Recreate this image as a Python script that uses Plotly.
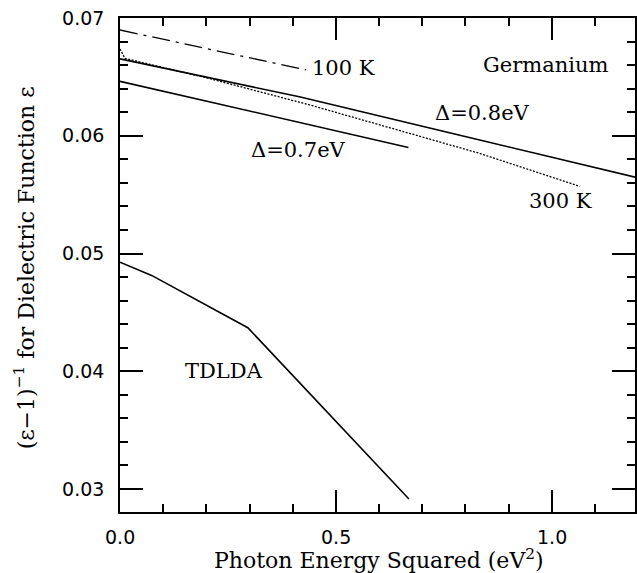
import plotly.graph_objects as go

# ---- data ----
x_100K = [0.0, 0.431]
y_100K = [0.06898, 0.06559]

x_d08 = [0.0, 0.4154, 0.8308, 1.2]
y_d08 = [0.06653, 0.06331, 0.05966, 0.05643]

x_300K = [0.0, 0.0115, 0.1962, 0.4385, 0.8308, 1.0655]
y_300K = [0.06737, 0.06657, 0.06496, 0.06263, 0.05853, 0.05570]

x_d07 = [0.0, 0.6681]
y_d07 = [0.06462, 0.05901]

x_tdlda = [0.0, 0.0732, 0.2961, 0.6693]
y_tdlda = [0.04926, 0.04814, 0.04370, 0.02915]

labels = ["100 K", "Germanium", "Δ=0.8eV", "Δ=0.7eV", "300 K", "TDLDA"]
label_x = [0.517, 0.9866, 0.840, 0.4143, 1.020, 0.240]
label_y = [0.06576, 0.06602, 0.06195, 0.05881, 0.05443, 0.04003]

x_tickvals = [0.0, 0.5, 1.0]
x_ticktext = ["0.0", "0.5", "1.0"]
y_tickvals = [0.03, 0.04, 0.05, 0.06, 0.07]
y_ticktext = ["0.03", "0.04", "0.05", "0.06", "0.07"]

SERIF = "DejaVu Serif"
SANS = "DejaVu Sans"
LW = 1.6

fig = go.Figure()
fig.add_trace(go.Scatter(x=x_100K, y=y_100K, mode="lines",
                         line=dict(color="black", width=1.3, dash="18px,6px,3px,6px")))
fig.add_trace(go.Scatter(x=x_d08, y=y_d08, mode="lines",
                         line=dict(color="black", width=LW)))
fig.add_trace(go.Scatter(x=x_300K, y=y_300K, mode="lines",
                         line=dict(color="black", width=1.3, dash="2px,1.5px")))
fig.add_trace(go.Scatter(x=x_d07, y=y_d07, mode="lines",
                         line=dict(color="black", width=LW)))
fig.add_trace(go.Scatter(x=x_tdlda, y=y_tdlda, mode="lines",
                         line=dict(color="black", width=LW)))

for t, lx, ly in zip(labels, label_x, label_y):
    fig.add_annotation(x=lx, y=ly, xref="x", yref="y", text=t, showarrow=False,
                       xanchor="center", yanchor="middle",
                       font=dict(family=SERIF, size=21, color="black"))

# x tick labels (placed below the axis at the tick values)
for tv, tt in zip(x_tickvals, x_ticktext):
    fig.add_annotation(x=tv, y=(512 - 537) / 494, xref="x", yref="paper", text=tt,
                       showarrow=False, xanchor="center", yanchor="middle",
                       font=dict(family=SANS, size=19, color="black"))

# axis titles
fig.add_annotation(x=(380 - 120) / 517, y=(512 - 575) / 494, xref="paper", yref="paper",
                   text="Photon Energy Squared (eV<sup>2</sup>)", showarrow=False,
                   xanchor="center", yanchor="bottom",
                   font=dict(family=SERIF, size=22, color="black"))
fig.add_annotation(x=(24 - 120) / 517, y=(512 - 268) / 494, xref="paper", yref="paper",
                   text="(ε−1)<sup>−1</sup> for Dielectric Function ε", showarrow=False,
                   textangle=-90, xanchor="center", yanchor="middle",
                   font=dict(family=SERIF, size=22, color="black"))

fig.update_xaxes(range=[0, 1.193], showgrid=False, zeroline=False,
                 showline=True, linecolor="black", linewidth=LW, mirror="ticks",
                 ticks="inside", ticklen=22, tickwidth=1.5, tickcolor="black",
                 tickvals=x_tickvals, ticktext=x_ticktext, showticklabels=False,
                 minor=dict(dtick=0.1, tick0=0, ticks="inside", ticklen=8,
                            tickwidth=1.5, tickcolor="black", showgrid=False))
fig.update_yaxes(range=[0.02805, 0.07], showgrid=False, zeroline=False,
                 showline=True, linecolor="black", linewidth=LW, mirror="ticks",
                 ticks="inside", ticklen=23, tickwidth=1.5, tickcolor="black",
                 tickvals=y_tickvals, ticktext=y_ticktext,
                 tickfont=dict(family=SANS, size=19, color="black"),
                 ticklabelstandoff=10,
                 minor=dict(dtick=0.002, tick0=0, ticks="inside", ticklen=8,
                            tickwidth=1.5, tickcolor="black", showgrid=False))

fig.update_layout(width=637, height=573,
                  margin=dict(l=120, r=0, t=18, b=61),
                  paper_bgcolor="white", plot_bgcolor="white",
                  showlegend=False)

fig.write_html("out.html")
